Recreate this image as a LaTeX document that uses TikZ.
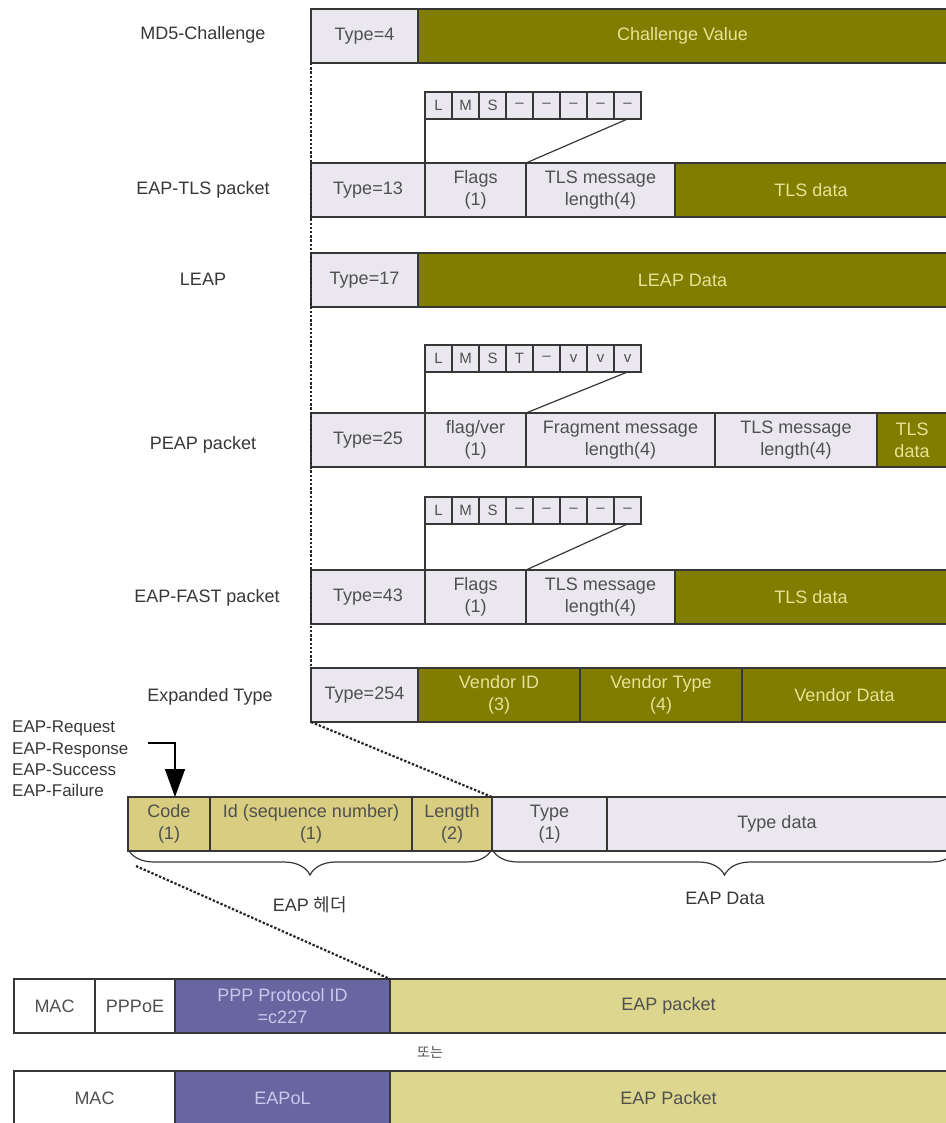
\documentclass[tikz,border=0pt]{standalone}
\usepackage{fontspec}
\setmainfont{Liberation Sans}
\newfontfamily\kr{Noto Sans CJK KR}
\usetikzlibrary{positioning,arrows.meta,decorations.pathreplacing}

\definecolor{olivebox}{RGB}{128,125,0}
\definecolor{olivetext}{RGB}{232,226,150}
\definecolor{greybox}{RGB}{234,232,238}
\definecolor{khakibox}{RGB}{221,214,142}
\definecolor{hdrbox}{RGB}{216,205,128}
\definecolor{purplebox}{RGB}{104,102,160}
\definecolor{purpletext}{RGB}{200,200,236}
\definecolor{inkc}{RGB}{55,55,55}
\definecolor{textc}{RGB}{80,80,80}

\tikzset{
  cell/.style={draw=inkc, line width=1.2pt, inner sep=0pt, outer sep=0pt,
    minimum height=54pt, align=center, font=\fontsize{18}{22}\selectfont},
  greycell/.style={cell, fill=greybox, text=textc},
  olivecell/.style={cell, fill=olivebox, text=olivetext},
  hdrcell/.style={cell, fill=hdrbox, text=textc},
  khakicell/.style={cell, fill=khakibox, text=textc},
  purplecell/.style={cell, fill=purplebox, text=purpletext},
  whitecell/.style={cell, fill=white, text=textc},
  bitcell/.style={draw=inkc, line width=1.2pt, fill=greybox, text=textc,
    inner sep=0pt, outer sep=0pt, minimum width=27pt, minimum height=27pt,
    anchor=north west, font=\fontsize{15}{15}\selectfont},
  lbl/.style={text=inkc, font=\fontsize{18}{22}\selectfont},
  link/.style={draw=inkc, line width=1.2pt},
  dotlink/.style={draw=black!85, line width=2.2pt, dash pattern=on 2.4pt off 1.8pt},
  bracec/.style={draw=inkc, line width=1.2pt, decorate,
    decoration={brace, mirror, amplitude=26pt}},
}

\begin{document}
\begin{tikzpicture}[x=1pt, y=-1pt]
\useasboundingbox (0,0) rectangle (945,1123);

% MD5-Challenge
\node[lbl] (md5lbl) at (203,35) {MD5-Challenge};
\node[greycell, minimum width=107pt, anchor=north west] (md5type) at (311,9) {Type=4};
\node[olivecell, minimum width=529pt, right=0pt of md5type] (md5val) {Challenge Value};

% EAP-TLS
\node[lbl] (tlslbl) at (203,190) {EAP-TLS packet};
\foreach \f [count=\i from 0] in {L,M,S,--,--,--,--,--}
  \node[bitcell] (tlsbit\i) at (425+27*\i,92) {\f};
\node[greycell, minimum width=114pt, anchor=north west] (tlstype) at (311,163) {Type=13};
\node[greycell, minimum width=101pt, right=0pt of tlstype] (tlsflags) {Flags\\(1)};
\node[greycell, minimum width=149pt, right=0pt of tlsflags] (tlslen) {TLS message\\length(4)};
\node[olivecell, minimum width=272pt, right=0pt of tlslen] (tlsdata) {TLS data};
\draw[link] (tlsbit0.south west) -- (tlsflags.north west);
\draw[link] (tlsbit7.south) -- (tlslen.north west);

% LEAP
\node[lbl] (leaplbl) at (203,279) {LEAP};
\node[greycell, minimum width=107pt, anchor=north west] (leaptype) at (311,253) {Type=17};
\node[olivecell, minimum width=529pt, right=0pt of leaptype] (leapdata) {LEAP Data};

% PEAP
\node[lbl] (peaplbl) at (203,445) {PEAP packet};
\foreach \f [count=\i from 0] in {L,M,S,T,--,v,v,v}
  \node[bitcell] (peapbit\i) at (425+27*\i,345) {\f};
\node[greycell, minimum width=114pt, anchor=north west] (peaptype) at (311,413) {Type=25};
\node[greycell, minimum width=101pt, right=0pt of peaptype] (peapflags) {flag/ver\\(1)};
\node[greycell, minimum width=189pt, right=0pt of peapflags] (peapfrag) {Fragment message\\length(4)};
\node[greycell, minimum width=162pt, right=0pt of peapfrag] (peaplen) {TLS message\\length(4)};
\node[olivecell, minimum width=70pt, right=0pt of peaplen] (peapdata) {TLS\\data};
\draw[link] (peapbit0.south west) -- (peapflags.north west);
\draw[link] (peapbit7.south) -- (peapfrag.north west);

% EAP-FAST
\node[lbl] (fastlbl) at (207,598) {EAP-FAST packet};
\foreach \f [count=\i from 0] in {L,M,S,--,--,--,--,--}
  \node[bitcell] (fastbit\i) at (425+27*\i,497) {\f};
\node[greycell, minimum width=114pt, anchor=north west] (fasttype) at (311,570) {Type=43};
\node[greycell, minimum width=101pt, right=0pt of fasttype] (fastflags) {Flags\\(1)};
\node[greycell, minimum width=149pt, right=0pt of fastflags] (fastlen) {TLS message\\length(4)};
\node[olivecell, minimum width=272pt, right=0pt of fastlen] (fastdata) {TLS data};
\draw[link] (fastbit0.south west) -- (fastflags.north west);
\draw[link] (fastbit7.south) -- (fastlen.north west);

% expanded type
\node[lbl] (explbl) at (210,697) {Expanded Type};
\node[greycell, minimum width=107pt, anchor=north west] (exptype) at (311,668) {Type=254};
\node[olivecell, minimum width=162pt, right=0pt of exptype] (vendid) {Vendor ID\\(3)};
\node[olivecell, minimum width=162pt, right=0pt of vendid] (vendtype) {Vendor Type\\(4)};
\node[olivecell, minimum width=205pt, right=0pt of vendtype] (venddata) {Vendor Data};
\draw[dotlink] (md5type.south west) -- (exptype.north west);

% EAP packet
\node[lbl, anchor=north west, align=left, inner sep=0pt,
  font=\fontsize{17}{21.3}\selectfont] (codelist) at (12,721)
  {EAP-Request\\EAP-Response\\EAP-Success\\EAP-Failure};
\node[hdrcell, minimum width=82pt, anchor=north west] (code) at (128,797) {Code\\(1)};
\node[hdrcell, minimum width=202pt, right=0pt of code] (ident) {Id (sequence number)\\(1)};
\node[hdrcell, minimum width=80pt, right=0pt of ident] (elen) {Length\\(2)};
\node[greycell, minimum width=115pt, right=0pt of elen] (etype) {Type\\(1)};
\node[greycell, minimum width=340pt, right=0pt of etype] (edata) {Type data};
\coordinate (codearr) at (148,743);
\draw[draw=black, line width=1.5pt, -{Triangle[width=20pt,length=28pt]}]
  (codearr) -| ([xshift=6pt]code.north);
\draw[dotlink] (exptype.south west) -- (etype.north west);
\draw[bracec] ([yshift=2pt]code.south west) -- ([yshift=2pt]elen.south east);
\draw[bracec] ([yshift=2pt]etype.south west) -- ([yshift=2pt,xshift=10pt]edata.south east);
\node[lbl] (hdrlbl) at (310,905) {EAP {\kr 헤더}};
\node[lbl] (datalbl) at (725,898) {EAP Data};

% PPPoE / EAPoL
\node[whitecell, minimum width=81pt, anchor=north west] (mac1) at (14,979) {MAC};
\node[whitecell, minimum width=80pt, right=0pt of mac1] (pppoe) {PPPoE};
\node[purplecell, minimum width=215pt, right=0pt of pppoe] (pppid) {PPP Protocol ID\\=c227};
\node[khakicell, minimum width=557pt, right=0pt of pppid] (eappkt) {EAP packet};
\draw[dotlink] ([shift={(8pt,-15pt)}]code.south west) -- (pppid.north east);
\node[text=textc, font=\kr\fontsize{14}{14}\selectfont] (orlbl) at (430,1052) {또는};
\node[whitecell, minimum width=161pt, anchor=north west] (mac2) at (14,1071) {MAC};
\node[purplecell, minimum width=215pt, right=0pt of mac2] (eapol) {EAPoL};
\node[khakicell, minimum width=557pt, right=0pt of eapol] (eappkt2) {EAP Packet};
\end{tikzpicture}
\end{document}
